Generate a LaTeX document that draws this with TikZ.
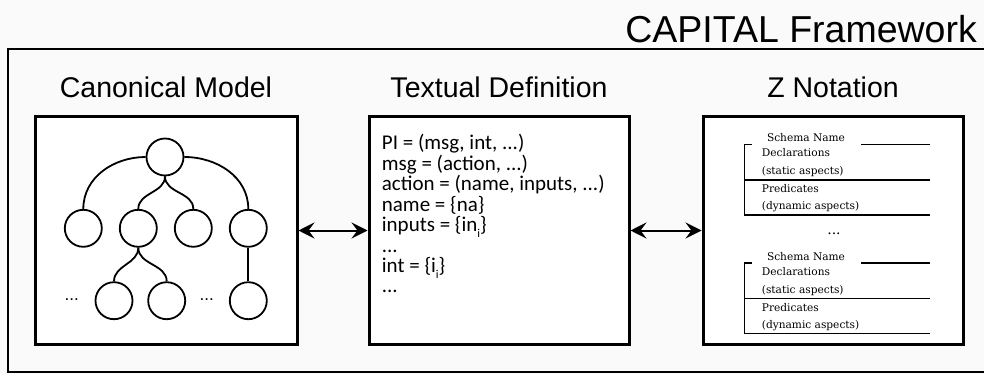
\documentclass[tikz,border=0pt]{standalone}
\usepackage{fontspec}
\setmainfont{Liberation Sans}
\newfontfamily\calfont{Carlito}
\newfontfamily\zfont{DejaVu Serif}
\usetikzlibrary{arrows.meta,shadows}

\definecolor{pagebg}{HTML}{FAFAFA}

\tikzset{
  headline/.style={font=\fontsize{28.5}{28.5}\selectfont, inner sep=0pt},
  bigtitle/.style={font=\fontsize{37.5}{37.5}\selectfont, inner sep=0pt},
  panel/.style={draw=black, line width=3pt, fill=white, minimum width=262pt,
    minimum height=227pt, inner sep=0pt,
    drop shadow={shadow xshift=1.2pt, shadow yshift=-1.2pt, opacity=1, fill=black}},
  treenode/.style={circle, draw=black, line width=1.8pt, fill=white,
    minimum size=37pt, inner sep=0pt},
  treeedge/.style={line width=1.8pt},
  dots/.style={font=\fontsize{17}{17}\selectfont, inner sep=0pt},
  defline/.style={font=\calfont\fontsize{21}{21}\selectfont, inner sep=0pt, anchor=base west},
  ztext/.style={font=\zfont\fontsize{10.6}{10.6}\selectfont, inner sep=0pt},
  zrule/.style={line width=1.2pt},
  biarrow/.style={line width=2pt, {Stealth[length=16pt,width=16pt,inset=6pt]}-{Stealth[length=16pt,width=16pt,inset=6pt]}},
}
\newcommand{\subi}{\raisebox{-0.3em}{\fontsize{12}{12}\selectfont i}}

\begin{document}
\begin{tikzpicture}[x=1pt,y=-1pt]
  \fill[pagebg] (0,0) rectangle (984,374);
  \useasboundingbox (0,0) rectangle (984,374);

  % framework heading and outer frame
  \node[bigtitle, anchor=base east] (fwtitle) at (977,43) {CAPITAL Framework};
  \draw[line width=2.5pt] (984,49) -- (8,49) -- (8,372) -- (984,372);

  % panel headings
  \node[headline, anchor=base] (h1) at (166,98) {Canonical Model};
  \node[headline, anchor=base] (h2) at (499,98) {Textual Definition};
  \node[headline, anchor=base] (h3) at (833,98) {Z Notation};

  % the three panels
  \node[panel] (cm) at (166,230.5) {};
  \node[panel, minimum width=260pt] (td) at (499,230.5) {};
  \node[panel, minimum width=260pt] (zn) at (833,230.5) {};

  % arrows between panels
  \draw[biarrow] (cm) -- (td);
  \draw[biarrow] (td) -- (zn);

  % canonical model tree
  \node[treenode] (root) at (165,157) {};
  \node[treenode] (a1) at (83.3,228.3) {};
  \node[treenode] (a2) at (138.3,228.3) {};
  \node[treenode] (a3) at (193.3,228.3) {};
  \node[treenode] (a4) at (248.3,228.3) {};
  \node[treenode] (b1) at (114,300.7) {};
  \node[treenode] (b2) at (166.7,300.7) {};
  \node[treenode] (b3) at (248.3,300.7) {};
  \node[dots] (d1) at (71.7,300) {...};
  \node[dots] (d2) at (206.7,300) {...};
  \draw[treeedge] (root.west) to[out=180,in=90] (a1.north);
  \draw[treeedge] (root.east) to[out=0,in=90] (a4.north);
  \draw[treeedge] (root.south) to[out=-90,in=90] (a2.north);
  \draw[treeedge] (root.south) to[out=-90,in=90] (a3.north);
  \draw[treeedge] (a2.south) to[out=-90,in=90] (b1.north);
  \draw[treeedge] (a2.south) to[out=-90,in=90] (b2.north);
  \draw[treeedge] (a4) -- (b3);

  % textual definition
  \node[defline] (t1) at (381.7,150.0) {PI = (msg, int, ...)};
  \node[defline] (t2) at (381.7,170.4) {msg = (action, ...)};
  \node[defline] (t3) at (381.7,190.8) {action = (name, inputs, ...)};
  \node[defline] (t4) at (381.7,211.2) {name = \{na\}};
  \node[defline] (t5) at (381.7,231.6) {inputs = \{in\subi\}};
  \node[defline] (t6) at (381.7,252.0) {...};
  \node[defline] (t7) at (381.7,272.4) {int = \{i\subi\}};
  \node[defline] (t8) at (381.7,292.8) {...};

  % Z schemas
  \foreach \dy/\p in {0/a,118.7/b}{
    \begin{scope}[shift={(0,\dy)}]
      \node[ztext, anchor=base] (\p name) at (806,141.5) {Schema Name};
      \node[ztext, anchor=base west] (\p decl) at (761.7,157) {Declarations};
      \node[ztext, anchor=base west] (\p stat) at (761.7,174.5) {(static aspects)};
      \node[ztext, anchor=base west] (\p pred) at (761.7,193) {Predicates};
      \node[ztext, anchor=base west] (\p dyn) at (761.7,209.5) {(dynamic aspects)};
      \draw[zrule] (751.7,144.3) -- (744.3,144.3) -- (744.3,215) -- (930,215);
      \draw[zrule] (861,144.3) -- (930,144.3);
      \draw[zrule] (744.3,180) -- (930,180);
    \end{scope}
  }
  \node[ztext, font=\zfont\fontsize{14}{14}\selectfont] (zdots) at (834,234) {...};
\end{tikzpicture}
\end{document}
